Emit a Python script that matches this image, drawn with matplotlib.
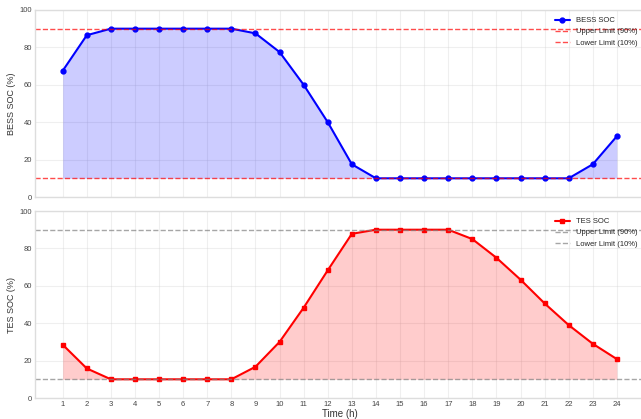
import matplotlib
matplotlib.use('Agg')
import matplotlib.pyplot as plt

# hourly state of charge for the two storage units
hours = list(range(1, 25))
bess_soc = [67.5, 86.5, 90, 90, 90, 90, 90, 90, 87.5, 77.5, 60, 40,
            17.5, 10, 10, 10, 10, 10, 10, 10, 10, 10, 17.5, 32.5]
tes_soc = [28.5, 15.8, 10, 10, 10, 10, 10, 10, 16.7, 30, 48.3, 68.3,
           87.8, 90, 90, 90, 90, 85, 75, 63.3, 50.6, 39, 29, 20.8]
upper_limit = 90
lower_limit = 10

plt.style.use('seaborn-v0_8-whitegrid')

fig = plt.figure(figsize=(6.41, 4.19), dpi=100)
ax1 = fig.add_axes([0.0546, 0.5298, 0.951, 0.4464])
ax2 = fig.add_axes([0.0546, 0.0501, 0.951, 0.4463], sharex=ax1)

# BESS
ax1.plot(hours, bess_soc, color='blue', marker='o', markersize=3.5, linewidth=1.5, label='BESS SOC')
ax1.fill_between(hours, bess_soc, lower_limit, color='blue', alpha=0.2, linewidth=0)
ax1.axhline(upper_limit, color='red', linestyle='--', linewidth=1, alpha=0.7, label='Upper Limit (90%)')
ax1.axhline(lower_limit, color='red', linestyle='--', linewidth=1, alpha=0.7, label='Lower Limit (10%)')
ax1.set_ylabel('BESS SOC (%)', fontsize=6.5, labelpad=3, color='#333333')
ax1.set_ylim(0, 100)

# TES
ax2.plot(hours, tes_soc, color='red', marker='s', markersize=3.5, linewidth=1.5, label='TES SOC')
ax2.fill_between(hours, tes_soc, lower_limit, color='red', alpha=0.2, linewidth=0)
ax2.axhline(upper_limit, color='gray', linestyle='--', linewidth=1, alpha=0.7, label='Upper Limit (90%)')
ax2.axhline(lower_limit, color='gray', linestyle='--', linewidth=1, alpha=0.7, label='Lower Limit (10%)')
ax2.set_ylabel('TES SOC (%)', fontsize=6.5, labelpad=3, color='#333333')
ax2.set_xlabel('Time (h)', fontsize=7, labelpad=1, color='#333333')
ax2.set_ylim(0, 100)
ax2.set_xticks(hours)

for ax in (ax1, ax2):
    ax.grid(True, alpha=0.3)
    ax.tick_params(labelsize=5.5, pad=2, colors='#444444')
    ax.legend(loc='upper right', fontsize=5.5, frameon=False)
    for s in ax.spines.values():
        s.set_color('#dddddd')
plt.setp(ax1.get_xticklabels(), visible=False)

fig.savefig('out.png', dpi=100)
